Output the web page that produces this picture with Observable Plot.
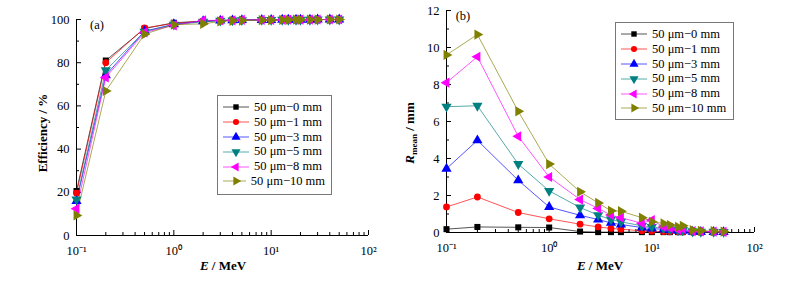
<!DOCTYPE html>
<html><head><meta charset="utf-8">
<script src="https://cdn.jsdelivr.net/npm/d3@7"></script>
<script src="https://cdn.jsdelivr.net/npm/@observablehq/plot@0.6"></script>
<style>
body{margin:0;background:#fff;}
#wrap{position:relative;width:803px;height:286px;font-family:"Liberation Serif","Times New Roman",serif;}
.panel{position:absolute;top:0;}
.legend{position:absolute;background:#fff;border:1px solid #777;font-size:12.5px;line-height:14.8px;padding:4px 6px 4px 5px;box-sizing:border-box;}
.legend .row{display:flex;align-items:center;height:14.8px;white-space:nowrap;}
.legend svg{margin-right:5px;}
</style></head>
<body><div id="wrap"></div>
<script>
// ---- data ----
const energies = [0.1,0.2,0.5,1,2,3,4,5,8,10,13,15,18,20,25,30,40,50];
const seriesNames = ["50 μm−0 mm","50 μm−1 mm","50 μm−3 mm","50 μm−5 mm","50 μm−8 mm","50 μm−10 mm"];
const seriesColors = ["#000000","#ff0000","#0000ff","#008080","#ff00ff","#808000"];
const xMajorTicks = [0.1,1,10,100];
const xMajorLabels = ["10⁻¹","10⁰","10¹","10²"];

const eff0  = [20.6,81.0,95.8,98.5,99.2,99.6,99.7,99.8,99.8,99.9,99.9,99.9,99.9,99.9,100,100,100,100];
const eff1  = [19.6,80.0,96.1,98.2,99.3,99.6,99.7,99.8,99.8,99.9,99.9,99.9,99.9,99.9,100,100,100,100];
const eff3  = [15.9,74.2,94.6,97.8,99.2,99.5,99.6,99.7,99.8,99.8,99.9,99.9,99.9,99.9,99.9,100,100,100];
const eff5  = [16.7,76.5,94.4,97.6,99.0,99.5,99.6,99.7,99.8,99.8,99.9,99.9,99.9,99.9,99.9,100,100,100];
const eff8  = [12.4,73.2,94.0,97.3,99.6,99.6,99.6,99.8,99.8,99.8,99.9,99.9,99.9,99.9,99.9,100,100,100];
const eff10 = [9.3,66.9,93.2,97.6,98.0,99.1,99.4,99.5,99.7,99.7,99.8,99.8,99.9,99.9,99.9,99.9,100,100];

const rm0  = [0.18,0.30,0.28,0.27,0.05,0.02,0.02,0.02,0.02,0.02,0.02,0.02,0.02,0.02,0.02,0.02,0.02,0.02];
const rm1  = [1.38,1.92,1.08,0.74,0.45,0.30,0.22,0.18,0.09,0.07,0.05,0.04,0.04,0.03,0.02,0.02,0.02,0.02];
const rm3  = [3.45,4.98,2.82,1.38,0.93,0.70,0.52,0.43,0.27,0.22,0.16,0.13,0.09,0.09,0.04,0.03,0.03,0.02];
const rm5  = [6.80,6.85,3.70,2.25,1.35,0.94,0.70,0.58,0.36,0.30,0.22,0.16,0.12,0.12,0.05,0.04,0.04,0.03];
const rm8  = [8.10,9.50,5.20,3.00,1.78,1.30,0.94,0.80,0.50,0.67,0.30,0.25,0.16,0.20,0.07,0.06,0.05,0.04];
const rm10 = [9.60,10.70,6.55,3.70,2.20,1.60,1.17,1.15,0.80,0.58,0.49,0.40,0.30,0.36,0.13,0.09,0.07,0.05];

const effSeries = [eff0,eff1,eff3,eff5,eff8,eff10];
const rmSeries = [rm0,rm1,rm3,rm5,rm8,rm10];

// ---- symbols ----
function tri(angle){
  return {draw(ctx,size){
    const y = -Math.sqrt(size/(Math.sqrt(3)*3));
    const pts=[[0,y*2],[-Math.sqrt(3)*y,-y],[Math.sqrt(3)*y,-y]];
    const c=Math.cos(angle), s=Math.sin(angle);
    pts.forEach(([px,py],i)=>{const X=px*c-py*s, Y=px*s+py*c; i?ctx.lineTo(X,Y):ctx.moveTo(X,Y);});
    ctx.closePath();
  }};
}
const symbols = [d3.symbolSquare, d3.symbolCircle, tri(0), tri(Math.PI), tri(-Math.PI/2), tri(Math.PI/2)];
const symbolR = [3.4,3.4,3.8,3.8,3.8,3.8];

const minorX = [];
for (const d of [0.1,1,10]) for (let k=2;k<=9;k++) minorX.push(+(d*k).toPrecision(3));

function rows(series){
  const out=[];
  series.forEach((vals,si)=>vals.forEach((v,i)=>out.push({series:seriesNames[si],si,x:energies[i],y:v})));
  return out;
}

function panel({series, yDomain, yMajor, yMinor, margins, width}){
  const data = rows(series);
  const marks = [
    Plot.ruleY([yDomain[0]],{stroke:"#000",strokeWidth:1}),
    Plot.ruleX([0.1],{stroke:"#000",strokeWidth:1}),
    Plot.axisX({ticks:xMajorTicks,tickSize:0,tickPadding:11,tickFormat:(d,i)=>xMajorLabels[xMajorTicks.indexOf(d)],label:null,fontSize:12.5}),
    Plot.axisX({ticks:xMajorTicks,tickSize:5,dy:-5,tickFormat:()=>"",label:null}),
    Plot.axisX({ticks:minorX,tickSize:3,dy:-3,tickFormat:()=>"",label:null}),
    Plot.axisY({ticks:yMajor,tickSize:0,tickPadding:7,label:null,fontSize:12.5}),
    Plot.axisY({ticks:yMajor,tickSize:5,dx:5,tickFormat:()=>"",label:null}),
    Plot.axisY({ticks:yMinor,tickSize:3,dx:3,tickFormat:()=>"",label:null}),
  ];
  seriesNames.forEach((name,si)=>{
    const d = data.filter(r=>r.si===si);
    marks.push(Plot.line(d,{x:"x",y:"y",stroke:seriesColors[si],strokeWidth:0.9,strokeOpacity:0.75}));
  });
  seriesNames.forEach((name,si)=>{
    const d = data.filter(r=>r.si===si);
    marks.push(Plot.dot(d,{x:"x",y:"y",fill:seriesColors[si],stroke:"none",symbol:symbols[si],r:symbolR[si]}));
  });
  return Plot.plot({
    width, height:286, ...margins,
    x:{type:"log",domain:[0.1,100]},
    y:{domain:yDomain},
    style:{fontFamily:'"Liberation Serif","Times New Roman",serif',fontSize:"12.5px",color:"#000",background:"transparent",overflow:"visible"},
    marks
  });
}

const wrap = document.getElementById("wrap");

const left = panel({series:effSeries,yDomain:[0,100],yMajor:[0,20,40,60,80,100],yMinor:[10,30,50,70,90],
  margins:{marginLeft:76,marginRight:32,marginTop:19,marginBottom:51},width:400});
left.classList.add("panel"); left.style.left="0px";
wrap.appendChild(left);

const right = panel({series:rmSeries,yDomain:[0,12],yMajor:[0,2,4,6,8,10,12],yMinor:[1,3,5,7,9,11],
  margins:{marginLeft:46,marginRight:49,marginTop:10,marginBottom:54},width:403});
right.classList.add("panel"); right.style.left="400px";
wrap.appendChild(right);

// axis titles & panel tags
const ff = '"Liberation Serif","Times New Roman",serif';
function addTexts(svg, cfg){
  const s = d3.select(svg);
  const xl = s.append("text").attr("x",cfg.xl[0]).attr("y",cfg.xl[1]).attr("text-anchor","middle")
    .attr("font-family",ff).attr("font-size",13).attr("font-weight","bold");
  xl.append("tspan").attr("font-style","italic").text("E");
  xl.append("tspan").text(" / MeV");
  const yl = s.append("text").attr("transform",`translate(${cfg.yl[0]},${cfg.yl[1]}) rotate(-90)`).attr("text-anchor","middle")
    .attr("font-family",ff).attr("font-size",13).attr("font-weight","bold");
  cfg.yText(yl);
  s.append("text").attr("x",cfg.tag[0]).attr("y",cfg.tag[1]).attr("font-family",ff).attr("font-size",12.5).text(cfg.tagText);
}
addTexts(left,{xl:[223,270],yl:[47,133],tag:[97,29],tagText:"(a)",yText:t=>t.text("Efficiency / %")});
addTexts(right,{xl:[200,270],yl:[14,133],tag:[63,20],tagText:"(b)",yText:t=>{
  t.append("tspan").attr("font-style","italic").text("R");
  t.append("tspan").attr("font-size",9).attr("dy",3).text("mean");
  t.append("tspan").attr("dy",-3).text(" / mm");
}});

// legends
function legend(x,y,w,h){
  const div = document.createElement("div");
  div.className="legend";
  Object.assign(div.style,{left:x+"px",top:y+"px",width:w+"px",height:h+"px"});
  seriesNames.forEach((name,si)=>{
    const row=document.createElement("div"); row.className="row";
    const sv=d3.create("svg").attr("width",26).attr("height",12);
    sv.append("line").attr("x1",0).attr("x2",26).attr("y1",6).attr("y2",6).attr("stroke",seriesColors[si]).attr("stroke-width",0.9).attr("stroke-opacity",0.75);
    sv.append("path").attr("transform","translate(13,6)").attr("fill",seriesColors[si])
      .attr("d",d3.symbol(symbols[si], Math.PI*symbolR[si]*symbolR[si]*0.8)());
    row.appendChild(sv.node());
    const sp=document.createElement("span"); sp.textContent=name; row.appendChild(sp);
    div.appendChild(row);
  });
  wrap.appendChild(div);
}
legend(217,95,115,100);
legend(615,22,119,98);
</script></body></html>
